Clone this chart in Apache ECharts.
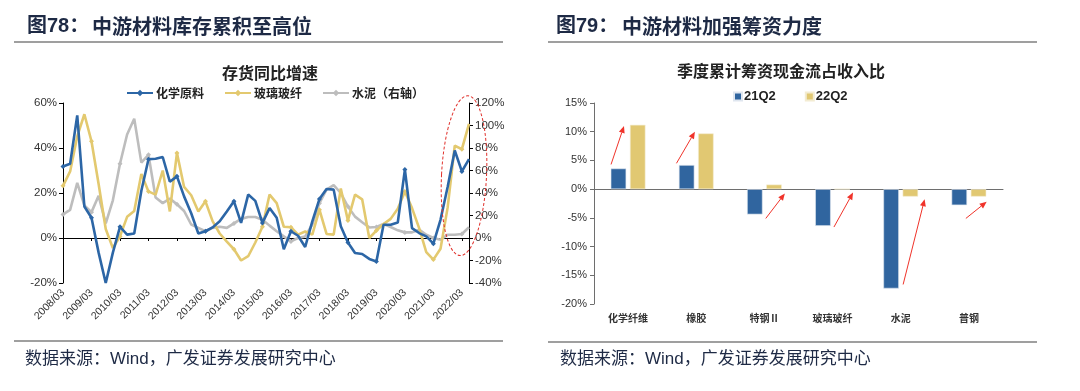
<!DOCTYPE html>
<html><head><meta charset="utf-8">
<script src="https://cdn.jsdelivr.net/npm/echarts@6/dist/echarts.min.js"></script>
<style>html,body{margin:0;padding:0;background:#fff;} #c{width:1080px;height:391px;}</style>
</head><body><div id="c"></div>
<script>
// ---------- data: left chart (inventory YoY growth) ----------
const quarters = [
 '2008/03','2008/06','2008/09','2008/12','2009/03','2009/06','2009/09','2009/12',
 '2010/03','2010/06','2010/09','2010/12','2011/03','2011/06','2011/09','2011/12',
 '2012/03','2012/06','2012/09','2012/12','2013/03','2013/06','2013/09','2013/12',
 '2014/03','2014/06','2014/09','2014/12','2015/03','2015/06','2015/09','2015/12',
 '2016/03','2016/06','2016/09','2016/12','2017/03','2017/06','2017/09','2017/12',
 '2018/03','2018/06','2018/09','2018/12','2019/03','2019/06','2019/09','2019/12',
 '2020/03','2020/06','2020/09','2020/12','2021/03','2021/06','2021/09','2021/12',
 '2022/03','2022/06'];
const chemRaw = [31.8,33,54.5,14,9,-6.5,-20,-6.5,5,1.5,
 2,21,35,35.2,36,25,27.4,18.5,11,2,
 3,4.7,7.4,11.8,16.3,6.7,19.3,16.5,6.7,13.3,
 9,-5,3,1,-4,7.4,17.3,21.8,21.5,5.2,
 -2,-6.7,-7.1,-9.3,-10.4,5.9,5.9,6.9,30.4,4.4,
 2.2,0.7,-2.5,8.1,22.7,38.9,29.6,35.1];
const glassFiber = [23.2,29.6,45.2,55,43,24,4,-4.5,0.7,9.4,
 12,28.5,20.7,19.3,30,11.8,37.8,22.7,19,11.8,
 16.3,7.5,2,-1.6,-5,-10,-8.1,-2,5,19.3,
 15.5,5,4.8,1.5,2.9,1.5,12.6,1.8,1.5,22,
 7.8,19.3,17.2,0,3.3,6.2,8.5,13,20.7,13.3,
 4.4,-6.3,-9.6,-4.8,13.5,41,39.5,50.7];
const cement = [21,25,49,29,23,37.5,13,33.5,66,92,
 106,67,74,36,31,35,30,24,12,9,
 6,9,10,9,13,17,18.7,18.7,16.3,11,
 6,1.4,-3,0,1.4,12,31,43,47,40,
 28,19,14,9.4,9.8,12.4,9.8,6.8,5,5,
 7.4,2.9,0,-1.5,2.9,2.9,3.5,9.5];
const seriesNamesLeft = ['化学原料','玻璃玻纤','水泥（右轴）'];

// ---------- data: right chart (financing cash flow / revenue) ----------
const barCategories = ['化学纤维','橡胶','特钢Ⅱ','玻璃玻纤','水泥','普钢'];
const q21 = [3.6,4.2,-4.4,-6.4,-17.3,-2.8];
const q22 = [11.2,9.7,0.8,0,-1.3,-1.3];
const barNames = ['21Q2','22Q2'];

// annotation arrows (category index, offset within band, value)
const arrowAnn = [
 [[0,-0.25,4.3],[0,-0.06,11.0]],
 [[1,-0.29,4.5],[1,-0.02,10.0]],
 [[2,0.02,-5.1],[2,0.30,-0.75]],
 [[3,0.02,-6.6],[3,0.30,-0.6]],
 [[4,0.035,-16.6],[4,0.35,-1.75]],
 [[5,-0.045,-5.1],[5,0.26,-2.2]]
];

const CJK = '"Noto Sans CJK SC"';
const LAT = '"Liberation Sans","Noto Sans CJK SC"';
const NAVY = '#1e2a45';
const BLUE = '#2c66a6', YEL = '#e3c96f', GRAY = '#bdbdbd';
const BBLUE = '#30659f', BYEL = '#e1c872';

const chart = echarts.init(document.getElementById('c'), null, {renderer:'canvas'});

const pct = v => v + '%';
const baseLine = (name, data, color, yIdx) => ({
  name, type:'line', data, xAxisIndex:0, yAxisIndex:yIdx,
  symbol:'diamond', symbolSize:5, showSymbol:true,
  lineStyle:{color, width:2.6}, itemStyle:{color},
  z: yIdx===1 ? 2 : (color===BLUE?4:3)
});

const option = {
  animation:false,
  backgroundColor:'#fff',
  title:[
    {text:'存货同比增速', left:265, top:60, textAlign:'center',
     textStyle:{fontFamily:CJK, fontSize:16, fontWeight:'bold', color:'#222'}},
    {text:'季度累计筹资现金流占收入比', left:776, top:58, textAlign:'center',
     textStyle:{fontFamily:CJK, fontSize:16, fontWeight:'bold', color:'#222'}}
  ],
  legend:[
    {data:seriesNamesLeft, left:121, top:82, itemWidth:26, itemHeight:8, itemGap:20,
     textStyle:{fontFamily:CJK, fontSize:12, fontWeight:'bold', color:'#222', padding:[0,0,0,-2]}},
    {data:barNames, left:728, top:85, icon:'rect', itemWidth:8, itemHeight:8, itemGap:29,
     textStyle:{fontFamily:LAT, fontSize:13, fontWeight:'bold', color:'#222', padding:[0,0,0,-3]}}
  ],
  grid:[
    {left:63, right:611, top:103, bottom:108, outerBoundsMode:'none', containLabel:false},
    {left:594, right:77, top:103, bottom:87, outerBoundsMode:'none', containLabel:false}
  ],
  xAxis:[
    {type:'category', gridIndex:0, data:quarters, boundaryGap:false, position:'bottom',
     axisLine:{show:false, onZero:false}, axisTick:{show:false}, splitLine:{show:false},
     axisLabel:{interval:3, rotate:45, margin:8, fontFamily:LAT, fontSize:10.5, color:'#333'}},
    {type:'category', gridIndex:0, data:quarters, boundaryGap:false, position:'bottom',
     axisLine:{show:true, onZero:true, onZeroAxisIndex:0, lineStyle:{color:'#000', width:1}},
     axisTick:{show:true, interval:3, length:3, lineStyle:{color:'#000'}},
     axisLabel:{show:false}, splitLine:{show:false}},
    {type:'category', gridIndex:1, data:barCategories, position:'bottom',
     axisLine:{show:false, onZero:false}, axisTick:{show:false}, splitLine:{show:false},
     axisLabel:{margin:9, fontFamily:CJK, fontSize:10, fontWeight:'bold', color:'#333'}},
    {type:'category', gridIndex:1, data:barCategories, position:'bottom',
     axisLine:{show:true, onZero:true, onZeroAxisIndex:2, lineStyle:{color:'#6e6e6e', width:1}},
     axisTick:{show:false}, axisLabel:{show:false}, splitLine:{show:false}}
  ],
  yAxis:[
    {type:'value', gridIndex:0, position:'left', min:-20, max:60, interval:20,
     axisLine:{show:true, lineStyle:{color:'#000'}}, axisTick:{show:true, length:4, lineStyle:{color:'#000'}},
     splitLine:{show:false},
     axisLabel:{formatter:pct, margin:6, fontFamily:LAT, fontSize:11.5, color:'#333'}},
    {type:'value', gridIndex:0, position:'right', min:-40, max:120, interval:20,
     axisLine:{show:true, lineStyle:{color:'#000'}}, axisTick:{show:true, length:4, lineStyle:{color:'#000'}},
     splitLine:{show:false},
     axisLabel:{formatter:pct, margin:6, fontFamily:LAT, fontSize:11.5, color:'#333'}},
    {type:'value', gridIndex:1, position:'left', min:-20, max:15, interval:5,
     axisLine:{show:true, lineStyle:{color:'#6e6e6e'}}, axisTick:{show:true, length:4, lineStyle:{color:'#6e6e6e'}},
     splitLine:{show:false},
     axisLabel:{formatter:pct, margin:7, fontFamily:LAT, fontSize:11, color:'#333'}}
  ],
  series:[
    baseLine(seriesNamesLeft[2], cement, GRAY, 1),
    baseLine(seriesNamesLeft[1], glassFiber, YEL, 0),
    baseLine(seriesNamesLeft[0], chemRaw, BLUE, 0),
    {name:barNames[0], type:'bar', xAxisIndex:2, yAxisIndex:2, data:q21, barWidth:15.5, barGap:'24%',
     itemStyle:{color:BBLUE, borderColor:'#dfe6ef', borderWidth:0.6}},
    {name:barNames[1], type:'bar', xAxisIndex:2, yAxisIndex:2, data:q22, barWidth:15.5, barGap:'24%',
     itemStyle:{color:BYEL, borderColor:'#f3ecd2', borderWidth:0.6}}
  ]
};
chart.setOption(option);

// ---------- decorations: headers, footers, rules, ellipse, arrows ----------
const g = [];
function txt(x, y, s, size, weight, fam, color){
  g.push({type:'text', x, y, style:{text:s, font:`${weight} ${size}px ${fam}`, fill:color||NAVY, textVerticalAlign:'middle', verticalAlign:'middle'}});
}
function rule(x1, x2, y){
  g.push({type:'line', shape:{x1, y1:y, x2, y2:y}, style:{stroke:'#7f7f7f', lineWidth:1.6}});
}
txt(27, 26, '图78：', 20, 'bold', LAT);
txt(92, 26, '中游材料库存累积至高位', 20, 'bold', CJK);
txt(556, 26, '图79：', 20, 'bold', LAT);
txt(622, 26, '中游材料加强筹资力度', 20, 'bold', CJK);
rule(14, 503, 42); rule(548, 1037, 42);
rule(14, 503, 341); rule(548, 1037, 342);
txt(25, 359, '数据来源：Wind，广发证券发展研究中心', 17, 'normal', LAT);
txt(560, 359, '数据来源：Wind，广发证券发展研究中心', 17, 'normal', LAT);

// ellipse around latest points (left chart)
function px(finder, cat, val){
  const a = chart.convertToPixel(finder, [Math.floor(cat), val]);
  const b = chart.convertToPixel(finder, [Math.floor(cat)+1, val]);
  const f = cat - Math.floor(cat);
  return [a[0] + (b[0]-a[0])*f, a[1]];
}
const ec = px({xAxisIndex:0, yAxisIndex:0}, 56.3, 27.7);
g.push({type:'ellipse', x:ec[0], y:ec[1], rotation:-0.05,
  shape:{cx:0, cy:0, rx:22.5, ry:80},
  style:{fill:'none', stroke:'#e0302b', lineWidth:1, lineDash:[3,2]}, z:10});

// arrows (right chart)
const bf = {xAxisIndex:2, yAxisIndex:2};
const band = chart.convertToPixel(bf, [1, 0])[0] - chart.convertToPixel(bf, [0, 0])[0];
arrowAnn.forEach(([s, e]) => {
  const p1 = chart.convertToPixel(bf, [s[0], s[2]]); p1[0] += s[1]*band;
  const p2 = chart.convertToPixel(bf, [e[0], e[2]]); p2[0] += e[1]*band;
  const ang = Math.atan2(p2[1]-p1[1], p2[0]-p1[0]);
  const L = 7, W = 3;
  const bx = p2[0] - L*Math.cos(ang), by = p2[1] - L*Math.sin(ang);
  g.push({type:'line', shape:{x1:p1[0], y1:p1[1], x2:bx, y2:by}, style:{stroke:'#f0332a', lineWidth:1}, z:10});
  g.push({type:'polygon', shape:{points:[
    [p2[0], p2[1]],
    [bx + W*Math.sin(ang), by - W*Math.cos(ang)],
    [bx - W*Math.sin(ang), by + W*Math.cos(ang)]
  ]}, style:{fill:'#f0332a'}, z:10});
});
chart.setOption({graphic:g});
</script></body></html>
